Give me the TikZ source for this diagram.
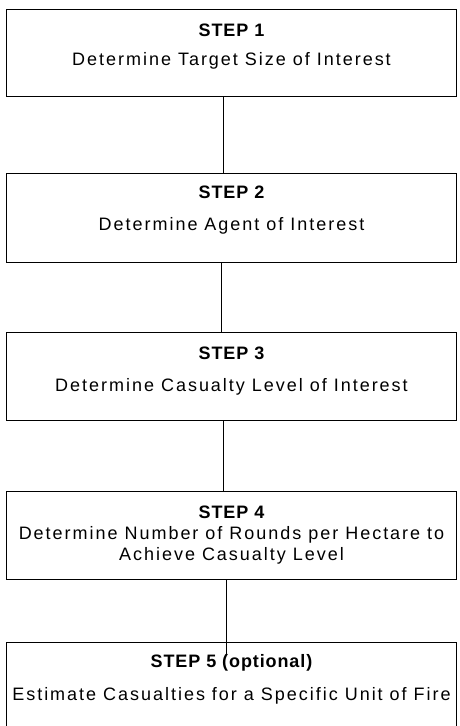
\documentclass[tikz,border=0pt]{standalone}
\usepackage{fontspec}
\setmainfont{Liberation Sans}
\newfontfamily\bodyfont[LetterSpace=11]{Liberation Sans}
\newfontfamily\headfont[LetterSpace=5]{Liberation Sans}
\begin{document}
\begin{tikzpicture}[x=1pt,y=1pt,
  box/.style={draw=black, line width=0.9pt, rectangle, minimum width=450pt, inner sep=0pt},
  head/.style={font=\headfont\fontsize{18}{20}\selectfont\bfseries, inner sep=0pt},
  body/.style={font=\bodyfont\fontsize{18}{21}\selectfont, align=center, inner sep=0pt},
  link/.style={draw=black, line width=0.9pt}]
\clip (0,0) rectangle (459,-726);
\fill[white] (0,0) rectangle (459,-726);
\node[box, minimum height=87pt] (s1) at (231.5,-53) {};
\node[box, minimum height=89pt] (s2) at (231.5,-217.5) {};
\node[box, minimum height=88pt] (s3) at (231.5,-376) {};
\node[box, minimum height=88pt] (s4) at (231.5,-535) {};
\node[box, minimum height=110pt] (s5) at (231.5,-697) {};
\node[head] (h1) at ([yshift=-21pt]s1.north) {STEP 1};
\node[body] (b1) at ([yshift=-52pt]s1.north) {Determine Target Size of Interest};
\node[head] (h2) at ([yshift=-20pt]s2.north) {STEP 2};
\node[body] (b2) at ([yshift=-53pt]s2.north) {Determine Agent of Interest};
\node[head] (h3) at ([yshift=-22pt]s3.north) {STEP 3};
\node[body] (b3) at ([yshift=-55pt]s3.north) {Determine Casualty Level of Interest};
\node[head] (h4) at ([yshift=-22pt]s4.north) {STEP 4};
\node[body] (b4) at ([yshift=-54.5pt]s4.north) {Determine Number of Rounds per Hectare to\\Achieve Casualty Level};
\node[head] (h5) at ([yshift=-21pt]s5.north) {STEP 5 (optional)};
\node[body] (b5) at ([yshift=-54pt]s5.north) {Estimate Casualties for a Specific Unit of Fire};
\draw[link] ([xshift=-8.5pt]s1.south) -- ([xshift=-8.5pt]s2.north);
\draw[link] ([xshift=-10pt]s2.south) -- ([xshift=-10pt]s3.north);
\draw[link] ([xshift=-8.5pt]s3.south) -- ([xshift=-8.5pt]s4.north);
\draw[link] ([xshift=-5.5pt]s4.south) -- ([xshift=-5.5pt,yshift=-13pt]s5.north);
\end{tikzpicture}
\end{document}
